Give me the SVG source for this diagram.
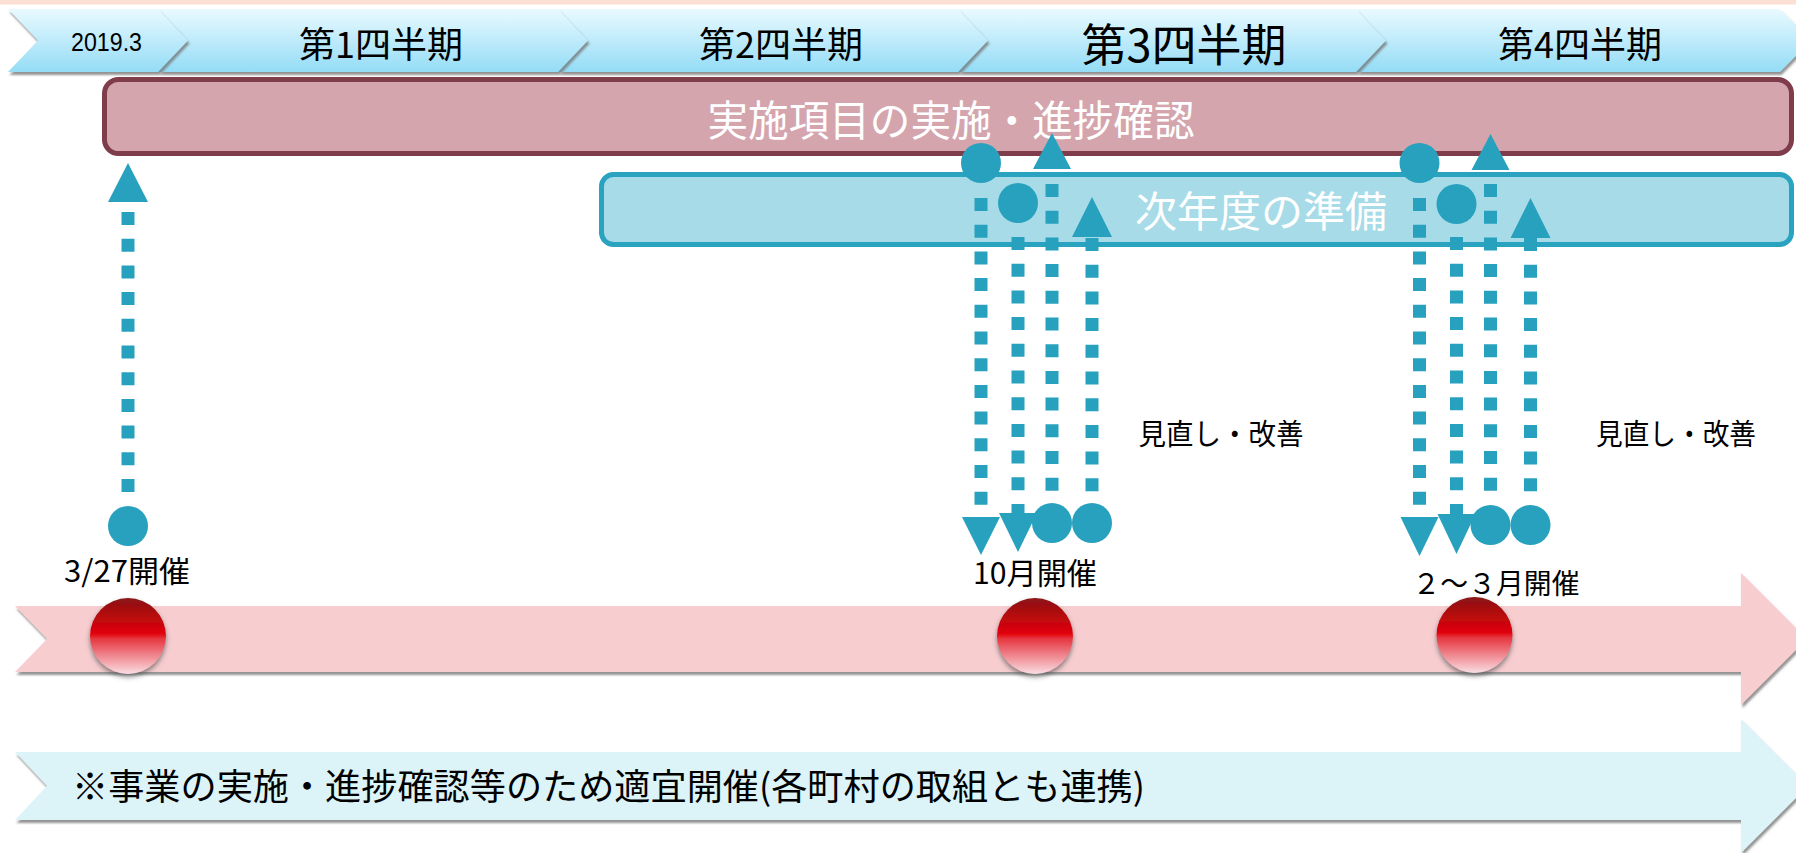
<svg xmlns="http://www.w3.org/2000/svg" width="1796" height="853" viewBox="0 0 1796 853">
<defs>
<linearGradient id="chevGrad" x1="0" y1="0" x2="0" y2="1">
<stop offset="0" stop-color="#e9faff"/>
<stop offset="1" stop-color="#94dcf6"/>
</linearGradient>
<linearGradient id="ballGrad" x1="0" y1="0" x2="0" y2="1">
<stop offset="0" stop-color="#8a1414"/>
<stop offset="0.47" stop-color="#e20008"/>
<stop offset="0.53" stop-color="#e6343e"/>
<stop offset="1" stop-color="#fadde3"/>
</linearGradient>
<filter id="sh" x="-5%" y="-30%" width="110%" height="170%">
<feDropShadow dx="1.5" dy="3" stdDeviation="1.2" flood-color="#707070" flood-opacity="0.75"/>
</filter>
<filter id="shBall" x="-30%" y="-30%" width="160%" height="160%">
<feDropShadow dx="0" dy="3" stdDeviation="2.5" flood-color="#555" flood-opacity="0.7"/>
</filter>
</defs>
<style>
.chev{fill:url(#chevGrad);filter:url(#sh)}
.hd{font-family:"Noto Sans CJK JP","Noto Sans",sans-serif;fill:#000;text-anchor:middle;dominant-baseline:central}
.lbl{font-family:"Noto Sans CJK JP","Noto Sans",sans-serif;fill:#000;text-anchor:middle;dominant-baseline:central}
.wt{font-family:"Noto Sans CJK JP","Noto Sans",sans-serif;fill:#fff;text-anchor:middle;dominant-baseline:central}
.dash{stroke:#28a1be;stroke-width:13;stroke-dasharray:13 13.7;fill:none}
.mk{fill:#28a1be}
.ball{fill:url(#ballGrad);filter:url(#shBall)}
</style>
<rect x="0" y="0" width="1796" height="4.5" fill="#fde0d4"/>

<g id="header">
<g id="q4"><polygon class="chev" points="1356,9 1780,9 1811,40.5 1780,72 1356,72 1386,40.5"/><text class="hd" x="1580" y="42" font-size="36">第4四半期</text></g>
<g id="q3"><polygon class="chev" points="958,9 1356,9 1386,40.5 1356,72 958,72 988,40.5"/><text class="hd" x="1184" y="42" font-size="45">第3四半期</text></g>
<g id="q2"><polygon class="chev" points="558,9 958,9 988,40.5 958,72 558,72 588,40.5"/><text class="hd" x="781" y="42" font-size="36">第2四半期</text></g>
<g id="q1"><polygon class="chev" points="158,9 558,9 588,40.5 558,72 158,72 188,40.5"/><text class="hd" x="381" y="42" font-size="36">第1四半期</text></g>
<g id="start"><polygon class="chev" points="8,9 158,9 188,40.5 158,72 8,72 38,40.5"/><text x="106.5" y="51" font-family="Liberation Sans, Arial, sans-serif" font-size="26" text-anchor="middle" textLength="71" lengthAdjust="spacingAndGlyphs">2019.3</text></g>
</g>

<g id="implement">
<rect x="104.5" y="79.5" width="1687" height="74" rx="14" fill="#d5a5ae" stroke="#7f3c4b" stroke-width="5"/>
<text class="wt" x="951" y="117" font-size="42" textLength="487" lengthAdjust="spacingAndGlyphs">実施項目の実施・進捗確認</text>
</g>

<g id="prepare">
<rect x="601.5" y="174.5" width="1190" height="70" rx="12" fill="#a7dbe7" stroke="#2aa3c0" stroke-width="5"/>
<text class="wt" x="1261" y="208" font-size="42" textLength="252" lengthAdjust="spacingAndGlyphs">次年度の準備</text>
</g>

<g id="timeline">
<polygon points="15,606 1741,606 1741,573 1807,639 1741,705 1741,672 15,672 47,639" fill="#f7cdd0" filter="url(#sh)"/>
</g>

<g id="note">
<polygon points="15,752 1741,752 1741,719 1808,786 1741,853 1741,820 15,820 47,786" fill="#dcf3f8" filter="url(#sh)"/>
<text x="72" y="784" font-family="Noto Sans CJK JP, Noto Sans, sans-serif" font-size="36" dominant-baseline="central" textLength="1073" lengthAdjust="spacingAndGlyphs">※事業の実施・進捗確認等のため適宜開催(各町村の取組とも連携)</text>
</g>

<g id="meeting1">
<circle class="ball" cx="128" cy="636" r="38"/>
<text class="lbl" x="127" y="569" font-size="30" textLength="126" lengthAdjust="spacingAndGlyphs">3/27開催</text>
</g>
<g id="meeting2">
<circle class="ball" cx="1035" cy="636" r="38"/>
<text class="lbl" x="1035" y="571" font-size="30" textLength="124" lengthAdjust="spacingAndGlyphs">10月開催</text>
</g>
<g id="meeting3">
<circle class="ball" cx="1474.5" cy="635" r="38"/>
<text class="lbl" x="1496" y="582" font-size="28" textLength="167" lengthAdjust="spacingAndGlyphs">２～３月開催</text>
</g>

<g id="review1"><text class="lbl" x="1221" y="432" font-size="29" textLength="165" lengthAdjust="spacingAndGlyphs">見直し・改善</text></g>
<g id="review2"><text class="lbl" x="1676" y="432" font-size="29" textLength="160" lengthAdjust="spacingAndGlyphs">見直し・改善</text></g>

<g id="connectors">
<g id="c-left">
<line class="dash" x1="128" y1="212" x2="128" y2="493"/>
<polygon class="mk" points="128,163 148,202 108,202"/>
<circle class="mk" cx="128" cy="526" r="20"/>
</g>
<g id="c-mid-a">
<circle class="mk" cx="981" cy="163" r="20"/>
<line class="dash" x1="981" y1="198" x2="981" y2="505"/>
<polygon class="mk" points="962,517 1000,517 981,555"/>
</g>
<g id="c-mid-b">
<circle class="mk" cx="1018" cy="203" r="20"/>
<line class="dash" x1="1018" y1="237" x2="1018" y2="517"/>
<polygon class="mk" points="999,513 1037,513 1018,552"/>
</g>
<g id="c-mid-c">
<polygon class="mk" points="1052,133 1071,169 1033,169"/>
<line class="dash" x1="1052" y1="184" x2="1052" y2="491"/>
<circle class="mk" cx="1052" cy="523" r="20"/>
</g>
<g id="c-mid-d">
<polygon class="mk" points="1092,197 1112,237 1072,237"/>
<line class="dash" x1="1092" y1="238" x2="1092" y2="492"/>
<circle class="mk" cx="1092" cy="523" r="20"/>
</g>
<g id="c-right-a">
<circle class="mk" cx="1419.5" cy="163" r="20"/>
<line class="dash" x1="1419.5" y1="198" x2="1419.5" y2="505"/>
<polygon class="mk" points="1400.5,517 1438.5,517 1419.5,556"/>
</g>
<g id="c-right-b">
<circle class="mk" cx="1456.5" cy="204" r="20"/>
<line class="dash" x1="1456.5" y1="237" x2="1456.5" y2="517"/>
<polygon class="mk" points="1437.5,514 1475.5,514 1456.5,554"/>
</g>
<g id="c-right-c">
<polygon class="mk" points="1490.5,134 1509.5,170 1471.5,170"/>
<line class="dash" x1="1490.5" y1="184" x2="1490.5" y2="491"/>
<circle class="mk" cx="1490.5" cy="525" r="20"/>
</g>
<g id="c-right-d">
<polygon class="mk" points="1530.5,198 1550.5,238 1510.5,238"/>
<line class="dash" x1="1530.5" y1="238" x2="1530.5" y2="492"/>
<circle class="mk" cx="1530.5" cy="525" r="20"/>
</g>
</g>
</svg>
